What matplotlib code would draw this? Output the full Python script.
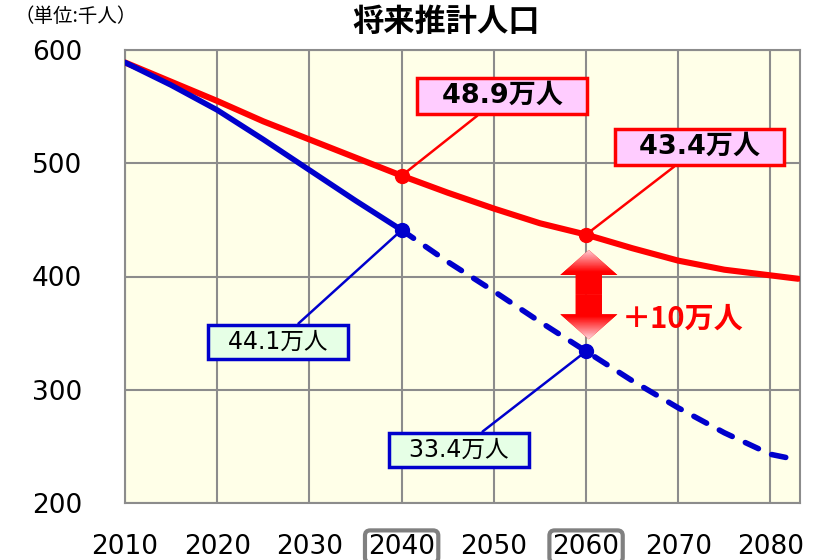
import numpy as np
import matplotlib.pyplot as plt
from matplotlib.patches import FancyArrowPatch
from matplotlib.colors import LinearSegmentedColormap

plt.rcParams['font.family'] = ['DejaVu Sans', 'Noto Sans CJK JP']

years = [2010, 2015, 2020, 2025, 2030, 2035, 2040, 2045, 2050, 2055, 2060,
         2065, 2070, 2075, 2080, 2083]
target = [589, 572, 555, 537, 521, 505, 489, 474, 460, 447, 437,
          425, 414, 406, 401, 398]
trend = [589, 569, 547, 521, 494, 467, 441, 413, 387, 360, 334,
         308, 284, 262, 243, 238]
xticks = [2010, 2020, 2030, 2040, 2050, 2060, 2070, 2080]
yticks = [200, 300, 400, 500, 600]

cut = years.index(2040)

fig = plt.figure(figsize=(8.2, 5.6), dpi=100)
ax = fig.add_axes([125 / 820, 1 - 503 / 560, 675 / 820, 453 / 560])
ax.set_facecolor('#ffffe8')

ax.plot(years, target, color='#ff0000', lw=4.4, solid_capstyle='round',
        solid_joinstyle='round', zorder=3)
ax.plot(years[:cut + 1], trend[:cut + 1], color='#0000cc', lw=4,
        solid_capstyle='round', solid_joinstyle='round', zorder=4)
ax.plot(years[cut:], trend[cut:], color='#0000cc', lw=4, ls=(0, (2.6, 2.6)),
        dash_capstyle='round', dash_joinstyle='round', zorder=4)

for yr in [2040, 2060]:
    i = years.index(yr)
    ax.plot(yr, target[i], 'o', color='#ff0000', ms=10, zorder=5)
    ax.plot(yr, trend[i], 'o', color='#0000cc', ms=10, zorder=5)

ax.grid(True, color='#8c8c8c', lw=1.5)
ax.set_axisbelow(True)
for s in ax.spines.values():
    s.set_color('#8c8c8c')
    s.set_linewidth(1.5)
ax.set_xticks(xticks)
ax.set_yticks(yticks)
ax.tick_params(length=0, labelsize=19)
ax.tick_params(axis='y', pad=31)
ax.tick_params(axis='x', pad=22)
for lab in ax.get_xticklabels():
    if lab.get_text() in ('2040', '2060'):
        lab.set_bbox(dict(boxstyle='round,pad=0.12,rounding_size=0.2',
                          fc='white', ec='#808080', lw=3))

# callouts
red_box = dict(boxstyle='square,pad=0.2', fc='#ffccff', ec='#ff0000', lw=2.5)
blue_box = dict(boxstyle='square,pad=0.22', fc='#e6ffe6', ec='#0000cc', lw=2.5)
line_r = dict(arrowstyle='-', color='#ff0000', lw=1.8, shrinkA=0, shrinkB=0)
line_b = dict(arrowstyle='-', color='#0000cc', lw=1.8, shrinkA=0, shrinkB=0)
i40, i60 = years.index(2040), years.index(2060)
ax.annotate('  48.9万人  ', xy=(2040, target[i40]), xytext=(2050.9, 559.4),
            ha='center', va='center', fontsize=19.5, fontweight='bold',
            bbox=red_box, zorder=6, arrowprops=line_r)
ax.annotate('  43.4万人  ', xy=(2060, target[i60]), xytext=(2072.3, 514.3),
            ha='center', va='center', fontsize=19.5, fontweight='bold',
            bbox=red_box, zorder=6, arrowprops=line_r)
ax.annotate('  44.1万人  ', xy=(2040, trend[i40]), xytext=(2026.6, 342.2),
            ha='center', va='center', fontsize=17,
            bbox=blue_box, zorder=6, arrowprops=line_b)
ax.annotate('  33.4万人  ', xy=(2060, trend[i60]), xytext=(2046.2, 246.8),
            ha='center', va='center', fontsize=17,
            bbox=blue_box, zorder=6, arrowprops=line_b)

# difference arrow, heads fade to pink at the tips
mid, top, bot, ax_x = 384, 423.5, 344.5, 2060.3
grad = LinearSegmentedColormap.from_list('g', ['#ffd0d8', '#ff0000', '#ff0000', '#ff0000', '#ffd0d8'])
for tip in (top, bot):
    arr = FancyArrowPatch((ax_x, mid), (ax_x, tip),
                          arrowstyle='simple,head_width=1.0,head_length=0.44,tail_width=0.46',
                          mutation_scale=41, color='#ff0000', lw=0,
                          shrinkA=0, shrinkB=0, zorder=5)
    ax.add_patch(arr)
    im = ax.imshow(np.linspace(0, 1, 100).reshape(-1, 1), cmap=grad,
                   extent=(ax_x - 4, ax_x + 4, bot, top), aspect='auto',
                   origin='lower', zorder=5)
    im.set_clip_path(arr)
ax.text(2070.5, 363, '＋10万人', color='#ff0000', fontsize=21,
        fontweight='bold', ha='center', va='center',
        family=['Noto Sans CJK JP', 'DejaVu Sans'], zorder=6)

ax.set_xlim(2010, 2083.2)
ax.set_ylim(200, 600)

fig.text(446 / 820, 1 - 22 / 560, '将来推計人口', fontsize=22.5, fontweight='bold',
         ha='center', va='center', family=['Noto Sans CJK JP', 'DejaVu Sans'])
fig.text(15 / 820, 1 - 16 / 560, '（単位:千人）', fontsize=14,
         ha='left', va='center', family=['Noto Sans CJK JP', 'DejaVu Sans'])

fig.savefig('out.png', dpi=100)
